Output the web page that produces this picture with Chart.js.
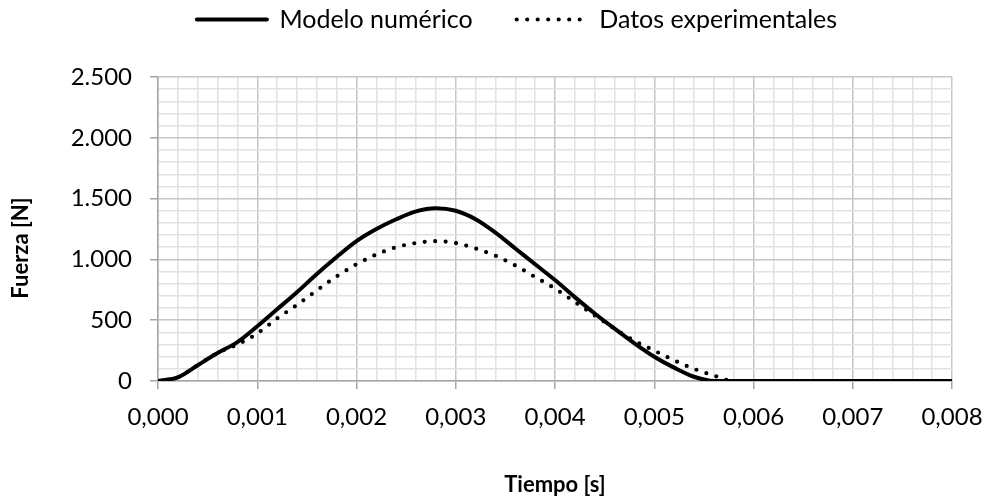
<!DOCTYPE html>
<html>
<head>
<meta charset="utf-8">
<script src="https://cdn.jsdelivr.net/npm/chart.js@4"></script>
<style>
  html, body { margin: 0; padding: 0; background: #ffffff; }
  #wrap { width: 984px; height: 498px; position: relative; }
</style>
</head>
<body>
<div id="wrap"><canvas id="c" width="984" height="498"></canvas></div>
<script>
// ---- data ----
const seriesNames = ['Modelo numérico', 'Datos experimentales'];
const timeModel = [0,0.0002,0.0004,0.0006,0.0008,0.001,0.0012,0.0014,0.0016,0.0018,0.002,0.0022,0.0024,0.0026,0.0028,0.003,0.0032,0.0034,0.0036,0.0038,0.004,0.0042,0.0044,0.0046,0.0048,0.005,0.0052,0.0054,0.0056,0.0058,0.006,0.0065,0.007,0.0075,0.008];
const forceModel = [0,30,130,230,320,450,590,730,880,1020,1150,1250,1330,1395,1420,1400,1330,1220,1090,960,830,690,555,430,310,200,110,35,0,0,0,0,0,0,0];
const timeExp = [0,0.0002,0.0004,0.0006,0.0008,0.001,0.0012,0.0014,0.0016,0.0018,0.002,0.0022,0.0024,0.0026,0.0028,0.003,0.0032,0.0034,0.0036,0.0038,0.004,0.0042,0.0044,0.0046,0.0048,0.005,0.0052,0.0054,0.0056,0.0058,0.006,0.0065,0.007,0.0075,0.008];
const forceExp = [0,30,130,230,300,390,515,625,745,860,960,1040,1100,1135,1150,1135,1090,1030,950,855,760,650,540,430,330,250,170,100,45,0,0,0,0,0,0];
const xTickLabels = ['0,000','0,001','0,002','0,003','0,004','0,005','0,006','0,007','0,008'];
const yTickLabels = ['0','500','1.000','1.500','2.000','2.500'];
const xTitle = 'Tiempo [s]';
const yTitle = 'Fuerza [N]';

const FONT = 'Lato, "Open Sans", sans-serif';
const MAJOR = '#c6c6c6', MINOR = '#e2e2e2', AXIS = '#a6a6a6';
const LEGEND_PAD = 44;
const LAYOUT_TOP = 7 - LEGEND_PAD;

const toPts = (xs, ys) => xs.map((x, i) => ({x: x, y: ys[i]}));

// keeps the legend box tall enough so the plot starts where the reference does
const legendHeightPlugin = {
  id: 'legendHeight',
  beforeLayout(chart) {
    const lg = chart.legend;
    if (lg && !lg._hFixed) {
      const origFit = lg.fit;
      lg.fit = function () { origFit.call(this); this.height = 77 - LAYOUT_TOP; };
      lg._hFixed = true;
    }
  }
};

// y axis title (the reference places it a little below the plot centre)
const yTitlePlugin = {
  id: 'yTitle',
  afterDraw(chart) {
    const ctx = chart.ctx;
    ctx.save();
    ctx.translate(21, 248);
    ctx.rotate(-Math.PI / 2);
    ctx.font = 'bold 22px ' + FONT;
    ctx.fillStyle = '#000000';
    ctx.textAlign = 'center';
    ctx.textBaseline = 'middle';
    ctx.fillText(yTitle, 0, 0);
    ctx.restore();
  }
};

new Chart(document.getElementById('c'), {
  type: 'line',
  data: {
    datasets: [
      {
        label: seriesNames[0],
        data: toPts(timeModel, forceModel),
        borderColor: '#000000',
        backgroundColor: '#000000',
        borderWidth: 4,
        pointRadius: 0,
        tension: 0.4,
        cubicInterpolationMode: 'monotone',
        borderCapStyle: 'round'
      },
      {
        label: seriesNames[1],
        data: toPts(timeExp, forceExp),
        borderColor: '#000000',
        backgroundColor: '#000000',
        borderWidth: 4.2,
        borderDash: [0, 10.5],
        borderCapStyle: 'round',
        pointRadius: 0,
        tension: 0.4,
        cubicInterpolationMode: 'monotone'
      }
    ]
  },
  plugins: [legendHeightPlugin, yTitlePlugin],
  options: {
    responsive: false,
    animation: false,
    devicePixelRatio: 1,
    layout: { padding: { left: 0, right: -50, top: LAYOUT_TOP, bottom: 0 } },
    plugins: {
      tooltip: { enabled: false },
      legend: {
        position: 'top',
        align: 'center',
        labels: {
          usePointStyle: true,
          pointStyle: 'line',
          pointStyleWidth: 70,
          boxHeight: 10,
          color: '#000000',
          padding: LEGEND_PAD,
          font: { family: FONT, size: 25 },
          generateLabels: (chart) => {
            const items = Chart.defaults.plugins.legend.labels.generateLabels(chart);
            items.forEach((it) => {
              const ds = chart.data.datasets[it.datasetIndex];
              it.lineDash = ds.borderDash || [];
              it.lineCap = ds.borderCapStyle || 'butt';
              it.lineWidth = ds.borderWidth;
              it.strokeStyle = ds.borderColor;
              it.fillStyle = 'rgba(0,0,0,0)';
            });
            return items;
          }
        }
      }
    },
    scales: {
      x: {
        type: 'linear',
        min: 0,
        max: 0.008,
        afterFit: (s) => { s.height = 117; s.paddingRight = 32; s.paddingLeft = 0; },
        ticks: {
          stepSize: 0.0002,
          autoSkip: false,
          maxRotation: 0,
          padding: 14,
          color: '#000000',
          font: { family: FONT, size: 24 },
          callback: (v) => {
            const k = Math.round(v / 0.0002);
            return k % 5 === 0 ? xTickLabels[k / 5] : '';
          }
        },
        grid: {
          color: (c) => (Math.round(c.tick.value / 0.0002) % 5 === 0 ? MAJOR : MINOR),
          tickColor: (c) => (Math.round(c.tick.value / 0.0002) % 5 === 0 ? AXIS : 'rgba(0,0,0,0)'),
          tickLength: 8,
          lineWidth: 1.5
        },
        border: { color: AXIS, width: 1.5 },
        title: {
          display: true,
          text: xTitle,
          color: '#000000',
          font: { family: FONT, size: 22, weight: 'bold' },
          padding: { top: 40, bottom: 0 }
        }
      },
      y: {
        type: 'linear',
        min: 0,
        max: 2500,
        afterFit: (s) => { s.width = 158; s.paddingTop = 77; },
        ticks: {
          stepSize: 100,
          autoSkip: false,
          padding: 18,
          color: '#000000',
          font: { family: FONT, size: 24 },
          callback: (v) => {
            const k = Math.round(v / 100);
            return k % 5 === 0 ? yTickLabels[k / 5] : '';
          }
        },
        grid: {
          color: (c) => (Math.round(c.tick.value / 100) % 5 === 0 ? MAJOR : MINOR),
          tickColor: (c) => (Math.round(c.tick.value / 100) % 5 === 0 ? AXIS : 'rgba(0,0,0,0)'),
          tickLength: 8,
          lineWidth: 1.5
        },
        border: { color: AXIS, width: 1.5 },
        title: { display: false }
      }
    }
  }
});
</script>
</body>
</html>
